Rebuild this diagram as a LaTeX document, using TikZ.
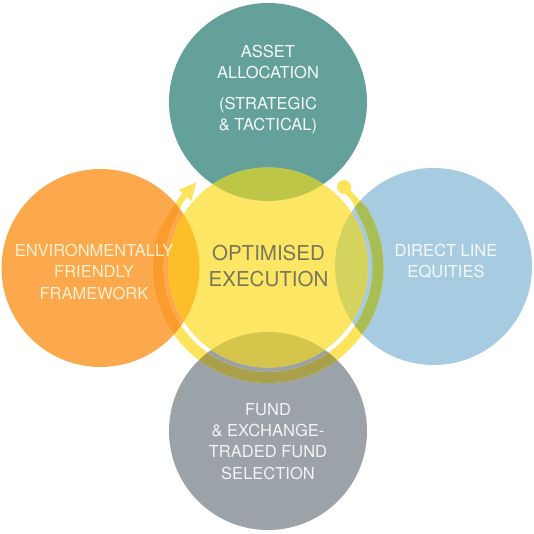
\documentclass[tikz,border=0pt]{standalone}
\usepackage{fontspec}
\setmainfont{TeX Gyre Heros}
\definecolor{cTeal}{HTML}{64A19A}
\definecolor{cOrange}{HTML}{FCA84D}
\definecolor{cBlue}{HTML}{A7CBE0}
\definecolor{cGrey}{HTML}{9BA2A8}
\definecolor{cYel}{HTML}{FDE664}
\definecolor{dTeal}{HTML}{BDC646}
\definecolor{dOrange}{HTML}{FCBF2A}
\definecolor{dBlue}{HTML}{D4D35E}
\definecolor{dGrey}{HTML}{D5C54B}
\definecolor{cRing}{HTML}{FDE45C}
\definecolor{rOrange}{HTML}{F99B2D}
\definecolor{rBlue}{HTML}{A9BD55}
\definecolor{rGrey}{HTML}{A8A04B}
\definecolor{tTeal}{HTML}{F5F8F7}
\definecolor{tOrange}{HTML}{FFF1CF}
\definecolor{tBlue}{HTML}{F3F9FC}
\definecolor{tGrey}{HTML}{F2F3F4}
\definecolor{tMid}{HTML}{77775E}
\begin{document}
\begin{tikzpicture}[x=1pt,y=1pt,
  disc/.style={circle, inner sep=0pt, outer sep=0pt, draw=none},
  lbl/.style={align=center, anchor=north, inner sep=0pt, font=\fontsize{16.5}{21.3}\selectfont},
  midlbl/.style={align=center, anchor=north, inner sep=0pt, font=\fontsize{20.5}{26}\selectfont, text=tMid},
  ringpath/.style={insert path={
    (46.6:113) arc[start angle=46.6,end angle=38,radius=113] -- (31:115.5)
    arc[start angle=31,end angle=-200,radius=115.5] -- (-217:113)
    arc[start angle=-217,end angle=-221,radius=113] -- (-221:107)
    arc[start angle=-221,end angle=-217,radius=107] -- (-200:104.5)
    arc[start angle=-200,end angle=31,radius=104.5] -- (38:107)
    arc[start angle=38,end angle=46.6,radius=107] -- cycle
    (-221:101.5) -- (-229.8:111.3) -- (-221:118.5) -- cycle
  }},
  dotpath/.style={insert path={(46.6:110.7) circle[radius=7]}}]
\useasboundingbox (0,0) rectangle (534,534);
\fill[white] (0,0) rectangle (534,534);
% outer circles
\node[disc, fill=cTeal, minimum size=198] (teal) at (268,432) {};
\node[disc, fill=cOrange, minimum size=198] (orange) at (100.5,266) {};
\node[disc, fill=cBlue, minimum size=197] (blue) at (433.5,267.5) {};
\node[disc, fill=cGrey, minimum size=198] (grey) at (268,103) {};
% central disc
\node[disc, fill=cYel, minimum size=200] (yel) at (268,266.5) {};
\begin{scope}\clip (teal.center) circle[radius=99];
  \fill[dTeal] (yel.center) circle[radius=100];\end{scope}
\begin{scope}\clip (orange.center) circle[radius=99];
  \fill[dOrange] (yel.center) circle[radius=100];\end{scope}
\begin{scope}\clip (blue.center) circle[radius=98.5];
  \fill[dBlue] (yel.center) circle[radius=100];\end{scope}
\begin{scope}\clip (grey.center) circle[radius=99];
  \fill[dGrey] (yel.center) circle[radius=100];\end{scope}
% ring with arrow and end dot
\fill[cRing, shift={(yel.center)}, ringpath];
\fill[cRing, shift={(yel.center)}, dotpath];
\begin{scope}\clip (orange.center) circle[radius=99];
  \fill[rOrange, shift={(yel.center)}, ringpath];\end{scope}
\begin{scope}\clip (blue.center) circle[radius=98.5];
  \fill[rBlue, shift={(yel.center)}, ringpath];\end{scope}
\begin{scope}\clip (grey.center) circle[radius=99];
  \fill[rGrey, shift={(yel.center)}, ringpath];\end{scope}
% labels
\node[lbl, text=tTeal] (tealtxt) at (268,489) {ASSET\\ALLOCATION\\[9pt](STRATEGIC\\\& TACTICAL)};
\node[lbl, text=tOrange] (orangetxt) at (94,290) {ENVIRONMENTALLY\\FRIENDLY\\FRAMEWORK};
\node[lbl, text=tBlue] (bluetxt) at (446,290) {DIRECT LINE\\EQUITIES};
\node[lbl, text=tGrey] (greytxt) at (268,131) {FUND\\\& EXCHANGE-\\TRADED FUND\\SELECTION};
\node[midlbl] (midtxt) at (268.5,289) {OPTIMISED\\EXECUTION};
\end{tikzpicture}
\end{document}
